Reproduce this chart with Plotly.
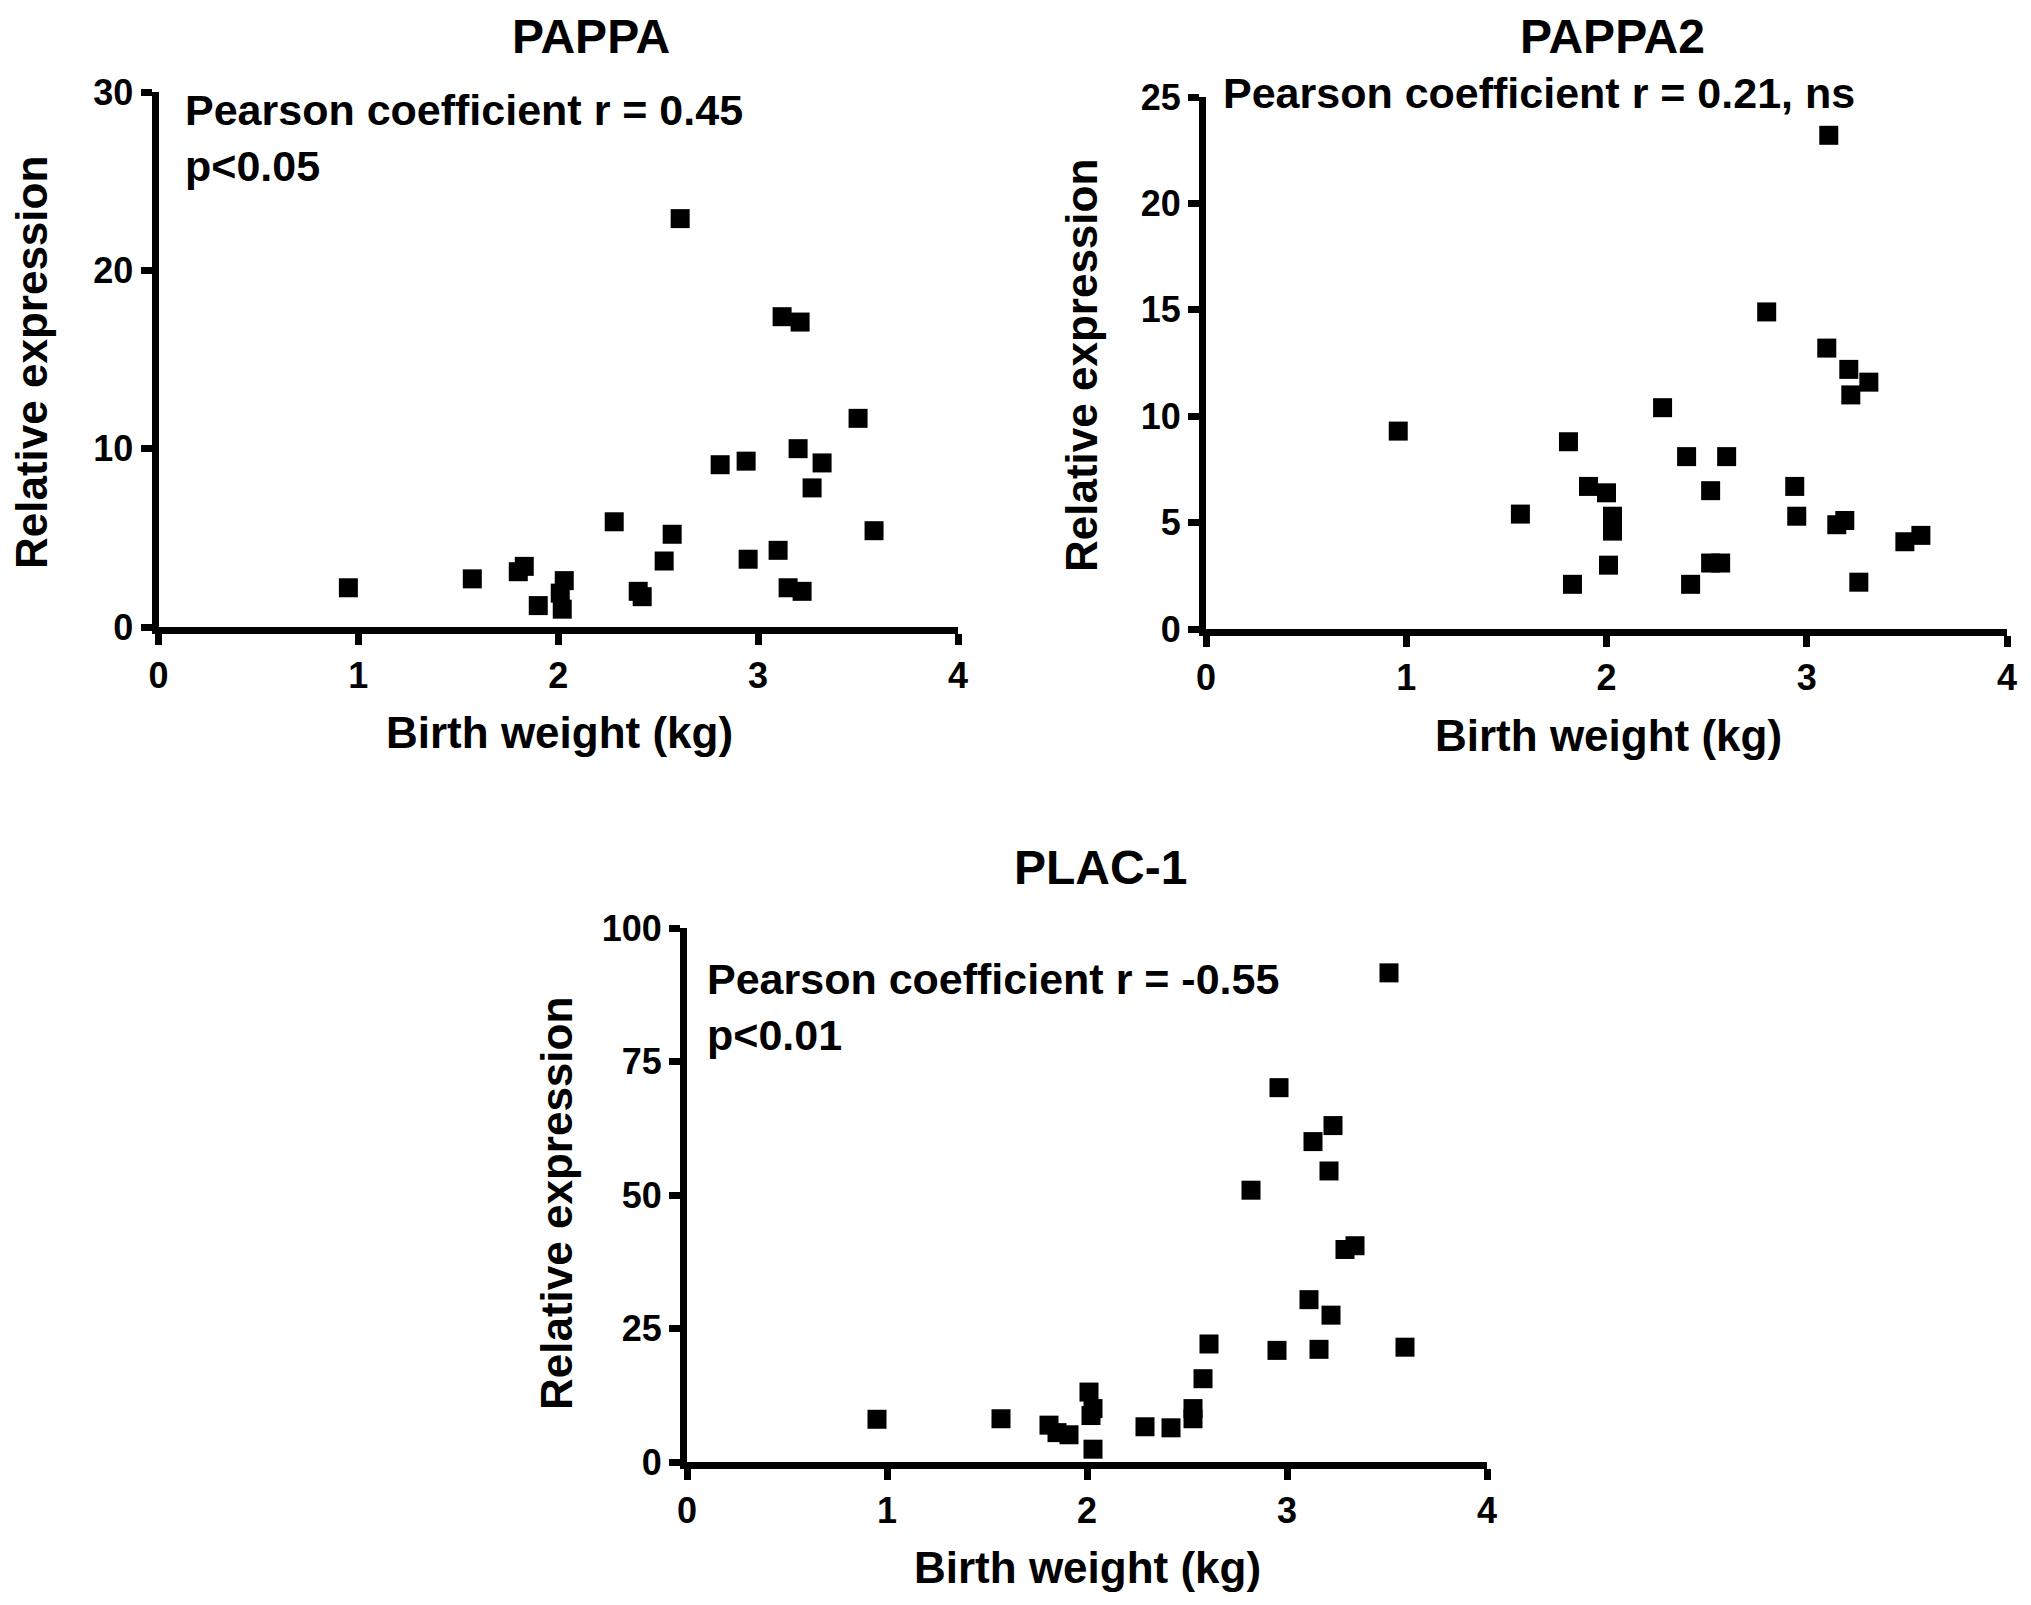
import plotly.graph_objects as go

# --- data ---
pappa_bw = [0.95, 1.57, 1.80, 1.83, 1.90, 2.01, 2.03, 2.02, 2.28, 2.40, 2.42, 2.53, 2.57, 2.61,
            2.81, 2.94, 2.95, 3.10, 3.12, 3.15, 3.21, 3.20, 3.22, 3.27, 3.32, 3.50, 3.58]
pappa_expr = [2.2, 2.7, 3.1, 3.4, 1.2, 1.9, 2.6, 1.0, 5.9, 2.0, 1.7, 3.7, 5.2, 22.9,
              9.1, 9.3, 3.8, 4.3, 17.4, 2.2, 17.1, 10.0, 2.0, 7.8, 9.2, 11.7, 5.4]

pappa2_bw = [0.96, 1.57, 1.81, 1.83, 1.91, 2.00, 2.03, 2.03, 2.01, 2.28, 2.40, 2.42, 2.52, 2.52,
             2.57, 2.60, 2.80, 2.94, 2.95, 3.11, 3.10, 3.15, 3.19, 3.21, 3.22, 3.31, 3.26, 3.49, 3.57]
pappa2_expr = [9.3, 5.4, 8.8, 2.1, 6.7, 6.4, 5.3, 4.6, 3.0, 10.4, 8.1, 2.1, 6.5, 3.1,
               3.1, 8.1, 14.9, 6.7, 5.3, 23.2, 13.2, 4.9, 5.1, 12.2, 11.0, 11.6, 2.2, 4.1, 4.4]

plac1_bw = [0.95, 1.57, 1.81, 1.85, 1.91, 2.01, 2.03, 2.02, 2.03, 2.29, 2.42, 2.53, 2.53, 2.58,
            2.61, 2.82, 2.96, 2.95, 3.11, 3.13, 3.16, 3.21, 3.23, 3.22, 3.29, 3.34, 3.51, 3.59]
plac1_expr = [8.0, 8.1, 6.9, 5.5, 5.1, 13.1, 10.0, 8.7, 2.4, 6.6, 6.4, 10.0, 8.1, 15.6,
              22.1, 50.9, 70.1, 20.9, 30.4, 60.0, 21.1, 54.5, 63.0, 27.5, 39.8, 40.5, 91.6, 21.5]

panel_titles = ["PAPPA", "PAPPA2", "PLAC-1"]
stats_text = ["Pearson coefficient r = 0.45<br>p<0.05",
              "Pearson coefficient r = 0.21, ns",
              "Pearson coefficient r = -0.55<br>p<0.01"]
x_title = "Birth weight (kg)"
y_title = "Relative expression"
y_ticks = [[0, 10, 20, 30], [0, 5, 10, 15, 20, 25], [0, 25, 50, 75, 100]]
y_ranges = [[0, 30], [0, 25], [0, 100]]
x_ticks = [0, 1, 2, 3, 4]

W, H = 2031, 1605
OFF = 8  # page body margin
FONT = "Liberation Sans, Arial, sans-serif"


def px_x(p):
    return (p - OFF) / W


def px_y(p):
    return 1 - (p - OFF) / H


# panel boxes in page pixels: (left, right, top, bottom)
boxes = [(158.5, 958, 92, 627), (1206, 2007, 97, 629), (687, 1487, 928, 1462)]

fig = go.Figure()
for i, (xs, ys) in enumerate([(pappa_bw, pappa_expr), (pappa2_bw, pappa2_expr), (plac1_bw, plac1_expr)]):
    n = "" if i == 0 else str(i + 1)
    fig.add_trace(go.Scatter(
        x=xs, y=ys, mode="markers", xaxis="x" + n, yaxis="y" + n,
        marker=dict(symbol="square", size=19, color="black", line=dict(width=0)),
        showlegend=False, cliponaxis=False, hoverinfo="x+y",
    ))

axis_common = dict(
    showline=True, linewidth=7, linecolor="black", showgrid=False, zeroline=False,
    ticks="outside", ticklen=11, tickwidth=7, tickcolor="black",
    tickfont=dict(family=FONT, size=36, color="black", weight="bold"),
    automargin=False, fixedrange=True,
)

layout = {}
for i, (l, r, t, b) in enumerate(boxes):
    n = "" if i == 0 else str(i + 1)
    layout["xaxis" + n] = dict(
        axis_common, domain=[px_x(l), px_x(r)], range=[0, 4], tickvals=x_ticks,
        anchor="y" + n,
    )
    layout["yaxis" + n] = dict(
        axis_common, domain=[px_y(b), px_y(t)], range=y_ranges[i], tickvals=y_ticks[i],
        anchor="x" + n,
    )

annotations = []


def add_text(txt, x, y, size, xanchor="center", angle=0):
    annotations.append(dict(
        text=txt, x=px_x(x), y=px_y(y), xref="paper", yref="paper",
        xanchor=xanchor, yanchor="middle", align="left", showarrow=False,
        textangle=angle,
        font=dict(family=FONT, size=size, color="black", weight="bold"),
    ))


for (cx, cy), txt in zip([(591, 37), (1612, 37), (1100, 868)], panel_titles):
    add_text(txt, cx, cy, 48)

for (lx, cy), txt in zip([(183, 138), (1221, 93), (705, 1007)], stats_text):
    add_text(txt, lx, cy, 43, xanchor="left")

for cx, cy in [(559, 733), (1608, 736), (1087, 1567)]:
    add_text(x_title, cx, cy, 44)

for cx, cy in [(31, 363), (1082, 366), (556, 1204)]:
    add_text(y_title, cx, cy, 44, angle=-90)

fig.update_layout(
    **layout,
    annotations=annotations,
    width=W, height=H,
    margin=dict(l=0, r=0, t=0, b=0),
    paper_bgcolor="white", plot_bgcolor="white",
)

fig.write_html("out.html")
